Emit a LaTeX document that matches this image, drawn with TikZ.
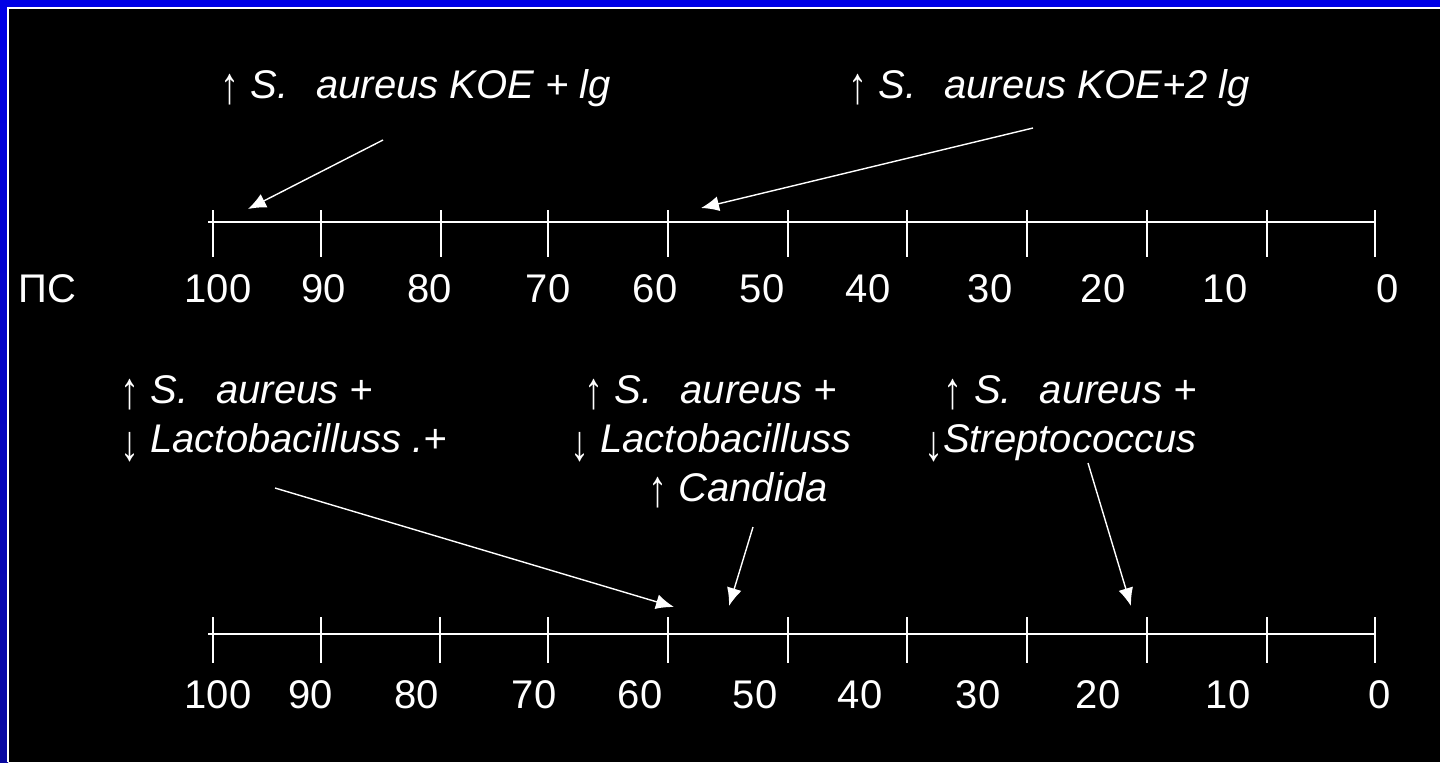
\documentclass[tikz,border=0pt]{standalone}
\usepackage{graphicx}
\usepackage{fontspec}
\setmainfont{Liberation Sans}
\usetikzlibrary{arrows.meta}
\definecolor{bgblue}{RGB}{0,0,230}
\definecolor{bgblue2}{RGB}{10,10,160}
\tikzset{
  lbl/.style={text=white, font=\fontsize{20pt}{24pt}\selectfont, inner sep=0pt},
  axis/.style={draw=white, line width=0.8pt},
  tick/.style={draw=white, line width=0.8pt},
  ptr/.style={draw=white, line width=0.7pt, -{Latex[length=9pt,width=7.5pt]}},
}
\newcommand{\up}{\raisebox{-0.14em}{\scalebox{0.95}[1.3]{\textup{↑}}}}
\newcommand{\dn}{\raisebox{-0.2em}{\scalebox{0.95}[1.25]{\textup{↓}}}}
\begin{document}
\begin{tikzpicture}[x=0.5pt,y=-0.5pt]
\useasboundingbox (0,0) rectangle (1440,762);
% background
\fill[bgblue] (0,0) rectangle (1440,762);
\shade[top color=bgblue, bottom color=bgblue2] (0,9) rectangle (8,762);
\fill[black] (9,9) rectangle (1440,762);
\draw[white, line width=0.6pt] (8,762) -- (8,8) -- (1440,8);

% top axis
\coordinate (t0) at (208,222);
\coordinate (t1) at (1376,222);
\draw[axis] (t0) -- (t1);
\foreach \x in {213,321,441,548,668,788,907,1027,1147,1267,1375}{
  \draw[tick] (\x,210) -- (\x,257);
}
\foreach \v/\x in {100/218,90/324,80/430,70/548,60/655,50/762,40/868,30/990,20/1103,10/1225,0/1388}{
  \node[lbl, anchor=base] (tl\v) at (\x,302) {\v};
}
\node[lbl, anchor=base west] (ps) at (18,302) {ПС};

% bottom axis
\coordinate (b0) at (208,634);
\coordinate (b1) at (1376,634);
\draw[axis] (b0) -- (b1);
\foreach \x in {213,321,440,548,668,788,907,1027,1147,1267,1375}{
  \draw[tick] (\x,617) -- (\x,663);
}
\foreach \v/\x in {100/218,90/311,80/417,70/534,60/640,50/755,40/860,30/978,20/1098,10/1228,0/1380}{
  \node[lbl, anchor=base] (bl\v) at (\x,708) {\v};
}

% top labels
\node[lbl, anchor=base west] (ta) at (220,98) {\up\ \textit{S.\hspace{0.7em}aureus KOE + lg}};
\node[lbl, anchor=base west] (tb) at (848,98) {\up\ \textit{S.\hspace{0.7em}aureus KOE+2 lg}};

% bottom labels
\node[lbl, anchor=base west] (ba1) at (120,403) {\up\ \textit{S.\hspace{0.7em}aureus +}};
\node[lbl, anchor=base west] (ba2) at (120,452) {\dn\ \textit{Lactobacilluss .+}};

\node[lbl, anchor=base] (bb1) at (711,403) {\up\ \textit{S.\hspace{0.7em}aureus +}};
\node[lbl, anchor=base] (bb2) at (711,452) {\dn\ \textit{Lactobacilluss}};
\node[lbl, anchor=base] (bb3) at (738,501) {\up\ \textit{Candida}};

\node[lbl, anchor=base east] (bc1) at (1197,403) {\up\ \textit{S.\hspace{0.7em}aureus +}};
\node[lbl, anchor=base east] (bc2) at (1197,452) {\dn\textit{Streptococcus}};

% pointer arrows
\coordinate (p1s) at (383,140); \coordinate (p1e) at (248,209);
\coordinate (p2s) at (1033,128); \coordinate (p2e) at (701,208);
\coordinate (p3s) at (275,488); \coordinate (p3e) at (674,607);
\coordinate (p4s) at (753,527); \coordinate (p4e) at (729,606);
\coordinate (p5s) at (1088,463); \coordinate (p5e) at (1131,606);
\draw[ptr] (p1s) -- (p1e);
\draw[ptr] (p2s) -- (p2e);
\draw[ptr] (p3s) -- (p3e);
\draw[ptr] (p4s) -- (p4e);
\draw[ptr] (p5s) -- (p5e);
\end{tikzpicture}
\end{document}
